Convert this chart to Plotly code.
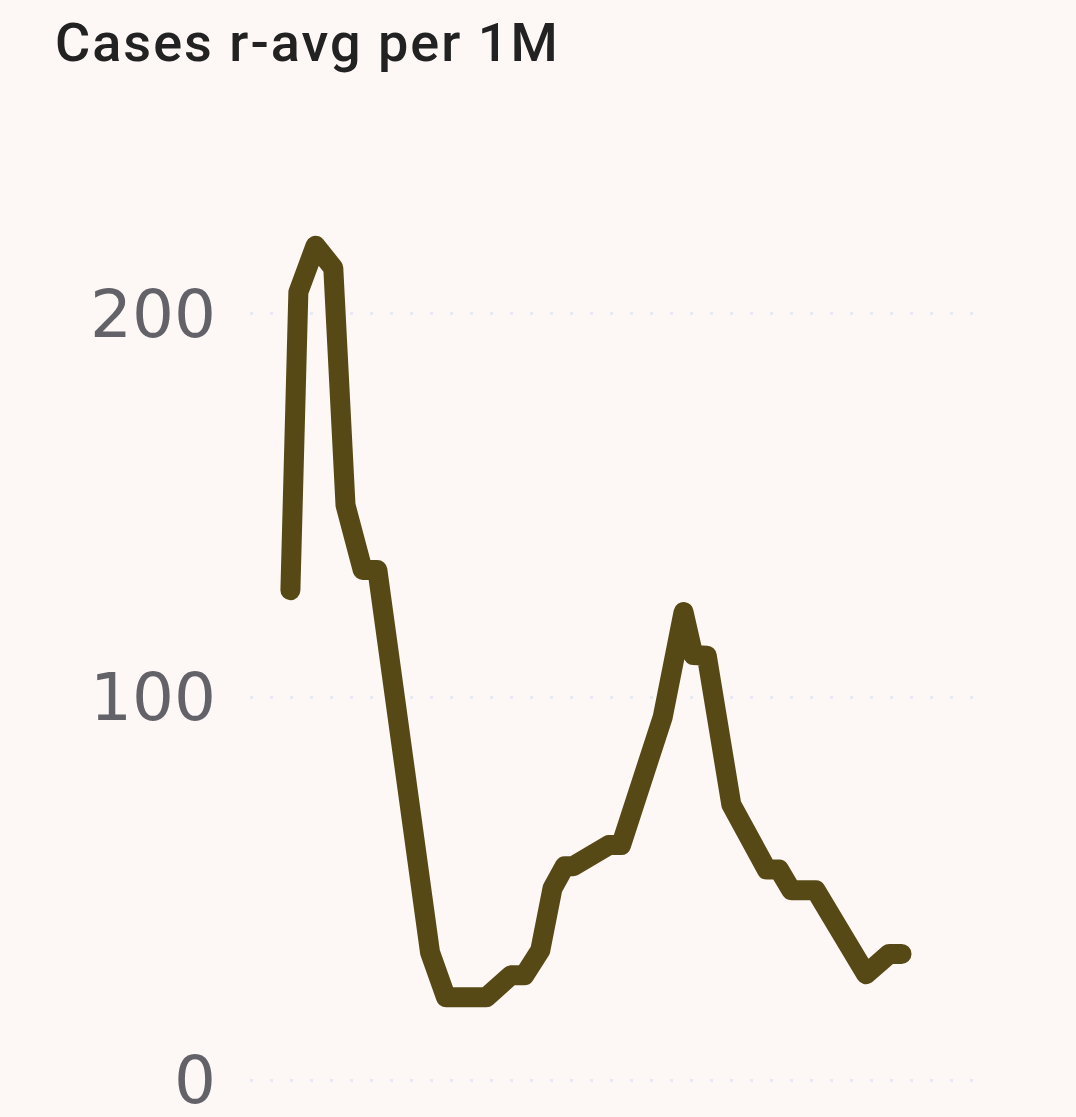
import plotly.graph_objects as go

# day offsets (fractional days from series start) and values (cases rolling avg per 1M)
days = [0, 0.65, 2.05, 3.5, 4.5, 5.9, 7.1, 11.4, 12.7, 16.0, 18.0, 19.1, 20.4, 21.4,
        22.4, 23.1, 26.0, 27.0, 30.4, 31.4, 32.1, 32.9, 34.0, 36.0, 38.9, 39.9, 40.9,
        42.9, 47.0, 48.9, 49.9]
values = [127.9, 205.7, 217.8, 212.0, 150.1, 133.2, 133.2, 33.4, 21.7, 21.7, 27.4, 27.4,
          33.9, 50.1, 55.9, 55.9, 61.4, 61.4, 94.8, 111.2, 122.2, 111.0, 110.8, 72.0,
          55.0, 55.0, 49.6, 49.6, 27.7, 33.0, 33.0]
y_ticks = [0, 100, 200]
y_tick_labels = ["0", "100", "200"]
title_text = "Cases r-avg per 1M"

line_color = "#574916"
bg = "#fdf8f5"

fig = go.Figure()
fig.add_trace(go.Scatter(
    x=days, y=values, mode="lines",
    line=dict(color=line_color, width=20),
    hoverinfo="skip", showlegend=False,
))

fig.update_layout(
    width=1076, height=1117,
    paper_bgcolor=bg, plot_bgcolor=bg,
    margin=dict(l=250, r=101, t=199, b=6, autoexpand=False),
    title=dict(text=title_text, x=55 / 1076, xanchor="left", y=1 - 42 / 1117,
               yanchor="middle", automargin=False,
               font=dict(family="Roboto", size=54, weight=500, color="#222222")),
    xaxis=dict(visible=False, range=[-3.3, 55.9], automargin=False),
    yaxis=dict(range=[-8, 230], tickvals=y_ticks, ticktext=y_tick_labels,
               showgrid=True, gridcolor="#e9e9f6", gridwidth=3, griddash="3px,17px",
               zeroline=False, showline=False, ticks="", automargin=False,
               ticklabelstandoff=33, ticklabeloverflow="allow",
               tickfont=dict(family="DejaVu Sans", size=66, color="#636269")),
)

post = """
document.body.style.margin='0';
document.body.style.background='%s';
function styleFig(){
  document.querySelectorAll('.scatterlayer .js-line').forEach(function(p){
    p.style.strokeLinejoin='round'; p.style.strokeLinecap='round';
  });
  document.querySelectorAll('.gtitle').forEach(function(t){
    t.style.letterSpacing='2px';
  });
}
styleFig();
var gd=document.getElementsByClassName('plotly-graph-div')[0];
if(gd && gd.on){ gd.on('plotly_afterplot', styleFig); }
""" % bg

fig.write_html("out.html", post_script=post, config={"displayModeBar": False})
